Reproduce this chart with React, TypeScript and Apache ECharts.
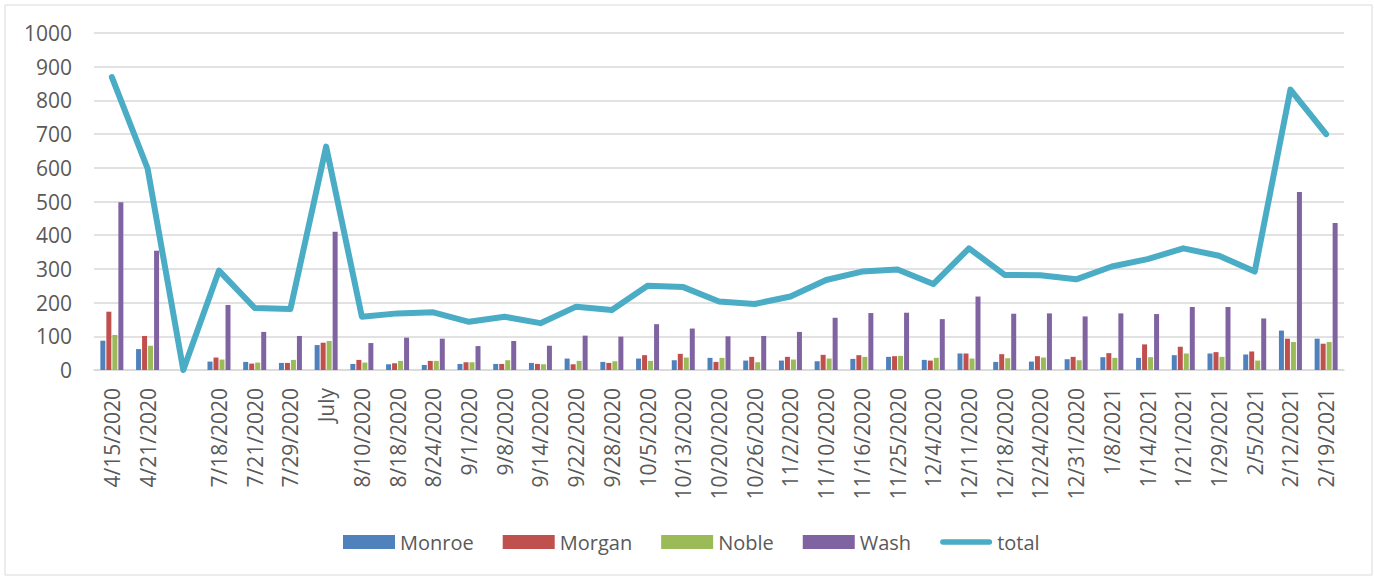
import React, { useEffect, useRef } from "react";
import * as echarts from "echarts";

const categories = [
  "4/15/2020", "4/21/2020", "", "7/18/2020", "7/21/2020", "7/29/2020", "July",
  "8/10/2020", "8/18/2020", "8/24/2020", "9/1/2020", "9/8/2020", "9/14/2020",
  "9/22/2020", "9/28/2020", "10/5/2020", "10/13/2020", "10/20/2020", "10/26/2020",
  "11/2/2020", "11/10/2020", "11/16/2020", "11/25/2020", "12/4/2020", "12/11/2020",
  "12/18/2020", "12/24/2020", "12/31/2020", "1/8/2021", "1/14/2021", "1/21/2021",
  "1/29/2021", "2/5/2021", "2/12/2021", "2/19/2021",
];

const monroe = [87, 62, null, 25, 24, 21, 74, 18, 17, 15, 18, 18, 21, 34, 24, 34, 29, 36, 28, 28, 26, 33, 39, 30, 49, 24, 25, 32, 38, 36, 44, 49, 46, 117, 93];
const morgan = [173, 101, null, 37, 19, 21, 81, 30, 20, 27, 23, 18, 18, 17, 21, 44, 48, 24, 39, 39, 45, 44, 41, 28, 49, 47, 41, 39, 50, 76, 69, 53, 55, 93, 78];
const noble = [104, 72, null, 31, 22, 30, 86, 22, 27, 27, 23, 29, 17, 27, 26, 27, 37, 36, 23, 31, 34, 39, 42, 36, 34, 35, 37, 29, 36, 38, 49, 39, 28, 83, 83];
const wash = [498, 354, null, 193, 113, 101, 410, 80, 96, 93, 71, 86, 72, 102, 99, 136, 123, 100, 101, 113, 155, 169, 170, 151, 218, 167, 168, 159, 168, 166, 187, 187, 153, 528, 436];
const total = [869, 598, 0, 295, 184, 181, 663, 158, 168, 171, 143, 158, 139, 188, 178, 250, 246, 203, 196, 218, 267, 292, 298, 255, 361, 282, 281, 269, 307, 329, 361, 339, 292, 832, 700];

const yTicks = [0, 1000, 100];

const colors = ["#4F81BD", "#C0504D", "#9BBB59", "#8064A2", "#4BACC6"];

const FONT = "'Open Sans', 'Liberation Sans', sans-serif";

export default function App() {
  const ref = useRef<HTMLDivElement>(null);
  useEffect(() => {
    if (!ref.current) return;
    const chart = echarts.init(ref.current, null, { renderer: "svg" });
    const bar = (name: string, data: (number | null)[], color: string) => ({
      name,
      type: "bar",
      data,
      barWidth: 5,
      barGap: "20%",
      itemStyle: { color },
    });
    chart.setOption({
      animation: false,
      textStyle: { fontFamily: FONT },
      graphic: [
        {
          type: "rect",
          shape: { x: 5, y: 5, width: 1367, height: 570 },
          style: { fill: "none", stroke: "#d9d9d9", lineWidth: 1 },
          silent: true,
        },
      ],
      grid: { left: 94, right: 30, top: 33, bottom: 208, containLabel: false },
      legend: {
        left: 338,
        top: 527,
        itemWidth: 52,
        itemHeight: 14,
        itemGap: 29,
        textStyle: {
          fontSize: 20,
          color: "#595959",
          fontFamily: FONT,
        },
        data: [
          { name: "Monroe", icon: "rect" },
          { name: "Morgan", icon: "rect" },
          { name: "Noble", icon: "rect" },
          { name: "Wash", icon: "rect" },
          {
            name: "total",
            icon: "path://M3,0 L54,0 A3,3 0 0 1 54,6 L3,6 A3,3 0 0 1 3,0 Z",
          },
        ],
      },
      xAxis: {
        type: "category",
        data: categories,
        axisLine: { lineStyle: { color: "#d9d9d9", width: 1.5 } },
        axisTick: { show: false },
        axisLabel: {
          rotate: 90,
          interval: 0,
          margin: 18,
          fontSize: 21,
          color: "#595959",
          fontFamily: FONT,
        },
      },
      yAxis: {
        type: "value",
        min: yTicks[0],
        max: yTicks[1],
        interval: yTicks[2],
        axisLine: { show: false },
        axisTick: { show: false },
        splitLine: { lineStyle: { color: "#d9d9d9", width: 1.5 } },
        axisLabel: {
          fontSize: 21,
          color: "#595959",
          margin: 22,
          fontFamily: FONT,
          formatter: (v: number) => String(v),
        },
      },
      series: [
        bar("Monroe", monroe, colors[0]),
        bar("Morgan", morgan, colors[1]),
        bar("Noble", noble, colors[2]),
        bar("Wash", wash, colors[3]),
        {
          name: "total",
          type: "line",
          data: total,
          symbol: "none",
          itemStyle: { color: colors[4] },
          lineStyle: { color: colors[4], width: 6, cap: "round", join: "round" },
        },
      ],
    });
    return () => chart.dispose();
  }, []);
  return (
    <div
      ref={ref}
      style={{ position: "absolute", left: 0, top: 0, width: 1374, height: 578 }}
    />
  );
}
